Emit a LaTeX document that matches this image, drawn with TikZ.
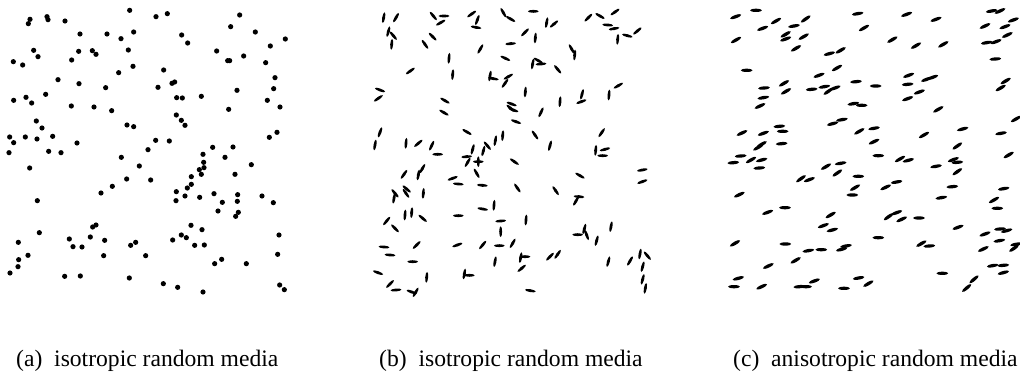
\documentclass[tikz,border=0pt]{standalone}
\usepackage{fontspec}
\setmainfont{Liberation Serif}
\begin{document}
\begin{tikzpicture}[x=1pt,y=-1pt,
  dot/.style={fill=black},
  grain/.style={fill=black},
  captext/.style={anchor=base west,inner sep=0pt,font=\rmfamily\fontsize{23.6}{28}\selectfont}]
\useasboundingbox (0,0) rectangle (1020,377);
% (a) dots
\begin{scope}[x=0.33333pt,y=-0.33333pt]
\foreach \px/\py in {389/31,468/50,502/41,719/45,90/58,85/71,141/50,144/59,195/63,240/102,321/102,363/116,401/96,545/105,563/129,692/80,766/96,856/117,811/138,101/151,114/170,40/185,68/195,215/180,236/154,277/152,288/163,385/150,399/199,356/218,491/210,650/153,683/182,689/182,731/168,797/188,825/233,821/266,174/239,237/251,317/263,474/262,516/250,524/246,530/293,547/294,604/289,711/271,41/301,78/292,95/309,137/283,214/318,282/321,335/332,686/328,802/301,840/321,109/363,126/384,381/375,401/380,529/345,544/361,555/376,29/411,41/428,76/411,111/417,158/409,231/429,27/458,146/454,183/458,89/504,364/472,418/498,444/449,467/421,508/423,638/442,609/463,611/487,612/503,598/509,604/523,574/530,574/553,562/564,675/472,699/441,754/494,705/523,808/412,831/397,380/537,452/540,337/559,303/579,529/575,555/588,528/602,599/592,642/581,667/607,713/584,712/604,786/588,820/608,654/633,715/637,707/649,112/602,118/698,55/727,84/766,56/779,54/800,30/819,194/829,241/828,208/717,219/740,246/741,271/711,278/681,288/675,314/721,311/767,392/736,407/727,437/767,388/834,518/720,544/705,559/713,573/676,606/689,584/736,613/735,490/851,533/862,609/876,644/791,665/778,739/791,837/705,833/763,839/855,853/869}
  {\fill[dot] (\px,\py) circle[radius=2.6pt];}
\end{scope}
% (b) isotropic grains
\begin{scope}[xshift=370pt,x=0.33333pt,y=-0.33333pt]
\foreach \px/\py/\a in {41/53/80,78/53/60,55/95/75,70/107/-50,65/133/85,190/48/-50,222/48/0,212/68/30,305/42/35,322/60/70,318/82/-10,400/38/-60,422/57/-30,490/34/0,530/68/80,552/72/40,465/97/45,496/114/85,188/110/-45,165/133/-55,331/147/60,422/131/5,655/53/45,690/48/-30,735/36/35,713/75/-5,732/86/10,772/107/-15,802/93/40,743/118/85,605/147/-60,614/165/85,237/175/85,248/224/85,121/213/35,406/175/-25,488/192/80,505/182/-30,513/192/5,563/208/-50,360/228/80,370/236/-10,415/230/30,405/250/55,466/276/85,570/305/85,636/283/75,634/305/20,717/285/85,745/257/30,30/270/-20,25/295/35,225/302/-30,222/338/-30,425/312/-20,430/330/-20,422/325/-40,438/365/-20,513/337/65,30/397/70,15/435/80,108/430/85,145/430/40,185/437/65,203/463/0,291/396/-30,308/448/75,290/470/5,293/487/60,340/453/75,352/437/-50,325/485/0,325/485/90,376/422/80,398/407/85,433/485/-35,495/405/-55,540/437/75,695/398/55,677/451/85,705/448/15,698/467/0,320/520/-60,102/523/55,145/525/80,157/506/60,248/535/20,265/552/-5,337/556/-5,630/527/-30,817/510/10,817/545/20,442/564/-55,557/572/-55,160/580/85,75/580/-50,72/595/80,110/567/-40,108/580/-55,627/590/-5,618/603/60,105/645/85,125/638/85,158/655/-40,50/663/50,75/685/-45,265/647/0,338/627/-10,372/616/85,392/663/5,392/695/90,468/660/85,643/687/75,623/704/0,650/705/-70,723/680/80,680/722/75,42/741/-5,60/765/-5,140/735/45,262/735/20,338/735/50,388/737/0,428/730/60,375/785/80,452/773/80,465/770/0,455/805/40,540/770/45,563/763/55,715/785/75,780/783/60,810/762/80,832/767/-50,818/800/75,818/838/75,826/865/80,24/818/-20,60/852/45,78/870/5,128/785/0,125/876/-20,137/877/60,170/832/85,283/822/80,298/826/0,481/872/-10}
  {\fill[grain,shift={(\px,\py)},rotate=\a] (0,0) ellipse[x radius=5.4pt,y radius=1.45pt];}
\end{scope}
% (c) anisotropic grains
\begin{scope}[xshift=720pt,x=0.33333pt,y=-0.33333pt]
\foreach \px/\py/\a in {47/50/20,108/31/0,128/85/20,168/63/30,222/78/10,257/57/35,48/120/30,197/103/30,197/117/20,251/110/30,228/145/30,413/41/10,432/84/30,560/43/20,648/58/20,517/119/30,588/137/30,670/133/30,815/33/10,840/33/25,880/60/20,795/78/25,855/80/20,862/105/25,800/128/10,828/125/20,328/161/15,362/151/30,80/211/0,297/226/20,351/204/30,826/177/5,132/264/5,192/250/30,198/274/30,130/293/10,120/318/25,275/268/5,313/260/10,325/274/35,345/264/20,408/245/5,467/258/0,566/226/20,563/253/5,620/238/20,638/232/20,598/276/20,563/296/20,857/243/30,842/264/30,400/311/10,425/316/0,655/328/30,338/371/15,366/359/10,888/357/30,66/399/25,130/400/20,178/379/5,188/394/0,185/431/5,115/442/30,125/433/30,62/468/5,40/488/5,93/480/30,125/480/15,118/504/5,418/394/30,462/385/10,462/425/25,728/387/15,843/400/10,612/405/30,712/438/35,866/465/30,475/467/0,540/477/30,565/481/15,648/499/10,700/479/20,712/487/5,712/515/35,318/500/30,362/490/10,352/519/35,243/536/35,268/539/20,415/529/0,405/563/30,397/585/0,497/562/25,530/546/10,697/560/5,664/593/10,58/584/25,851/566/10,822/600/30,832/625/0,143/637/20,195/623/0,332/645/30,310/677/20,337/690/15,506/650/35,530/638/20,545/658/25,597/654/0,714/682/20,475/713/0,45/730/30,196/732/0,265/752/10,304/749/0,365/748/15,378/738/10,604/731/30,628/738/5,795/702/20,840/687/5,860/692/15,838/722/10,790/747/25,882/745/35,888/733/10,145/798/25,227/781/30,818/797/10,850/796/5,850/818/15,667/820/0,762/838/40,740/864/40,55/835/15,42/860/0,125/860/25,238/860/5,258/860/0,283/843/20,372/865/0,416/834/10,445/851/30}
  {\fill[grain,shift={(\px,\py)},rotate=\a] (0,0) ellipse[x radius=5.9pt,y radius=1.65pt];}
\end{scope}
% captions
\node[captext] (capa) at (16,366) {(a)\hskip0.5em isotropic random media};
\node[captext] (capb) at (379,366) {(b)\hskip0.5em isotropic random media};
\node[captext] (capc) at (733,366) {(c)\hskip0.5em anisotropic random media};
\end{tikzpicture}
\end{document}
